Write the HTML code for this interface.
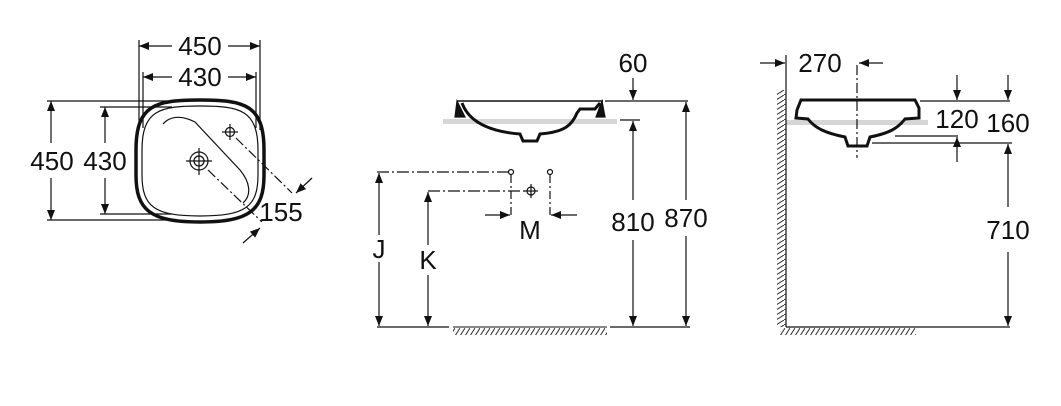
<!DOCTYPE html>
<html><head><meta charset="utf-8"><style>
html,body{margin:0;padding:0;background:#fff;}
svg{display:block;}
text{font-family:"Liberation Sans",sans-serif;font-size:26px;fill:#111;text-anchor:middle;}
</style></head><body>
<svg width="1061" height="406" viewBox="0 0 1061 406" xmlns="http://www.w3.org/2000/svg">
<defs>
<marker id="a" viewBox="0 0 10 10" refX="10" refY="5" markerWidth="15" markerHeight="10" markerUnits="userSpaceOnUse" orient="auto"><path d="M0,1 L10,5 L0,9 Z" fill="#111"/></marker>
<pattern id="h" width="5" height="8" patternUnits="userSpaceOnUse"><path d="M0,8 L5,0" stroke="#333" stroke-width="1"/></pattern>
<pattern id="hv" width="8" height="5" patternUnits="userSpaceOnUse"><path d="M0,5 L8,0" stroke="#333" stroke-width="1"/></pattern>
</defs>
<rect x="443" y="119" width="174" height="5" fill="#d6d6d6"/>
<rect x="786" y="120" width="142" height="5" fill="#d6d6d6"/>
<g stroke="#111" stroke-width="1.2" fill="none">
<!-- Panel 1 -->
<line x1="139" y1="40" x2="139" y2="128"/><line x1="260" y1="40" x2="260" y2="130"/>
<line x1="143" y1="72" x2="143" y2="128"/><line x1="256" y1="72" x2="256" y2="128"/>
<line x1="172" y1="46" x2="139" y2="46" marker-end="url(#a)"/><line x1="228" y1="46" x2="260" y2="46" marker-end="url(#a)"/>
<line x1="172" y1="77" x2="143" y2="77" marker-end="url(#a)"/><line x1="228" y1="77" x2="256" y2="77" marker-end="url(#a)"/>
<line x1="47" y1="101" x2="168" y2="101"/><line x1="47" y1="220" x2="168" y2="220"/>
<line x1="100" y1="107" x2="172" y2="107"/><line x1="100" y1="214" x2="172" y2="214"/>
<line x1="51" y1="143" x2="51" y2="101" marker-end="url(#a)"/><line x1="51" y1="178" x2="51" y2="220" marker-end="url(#a)"/>
<line x1="105" y1="143" x2="105" y2="107" marker-end="url(#a)"/><line x1="105" y1="178" x2="105" y2="214" marker-end="url(#a)"/>
<path d="M200,100 C245,100 264,105 264,150 L264,175 C264,210 250,222 200,222 C150,222 136,210 136,175 L136,150 C136,105 155,100 200,100 Z" stroke-width="3.5"/>
<path d="M200,106 C240,106 258,110 258,150 L258,175 C258,207 245,216 200,216 C155,216 142,207 142,175 L142,150 C142,110 160,106 200,106 Z"/>
<path d="M163,124 C172,114 185,117 195,122 L240,170 C250,182 252,195 243,203"/>
<circle cx="199" cy="161" r="9"/><circle cx="199" cy="161" r="5"/>
<line x1="186" y1="161" x2="212" y2="161"/><line x1="199" y1="148" x2="199" y2="175"/>
<circle cx="230" cy="132" r="4.5"/><line x1="222" y1="132" x2="238" y2="132"/><line x1="230" y1="124" x2="230" y2="140"/>
<line x1="208" y1="170" x2="262" y2="222" stroke-dasharray="10,3,2,3"/>
<line x1="236" y1="138" x2="292" y2="193" stroke-dasharray="10,3,2,3"/>
<line x1="312" y1="178" x2="296" y2="193" marker-end="url(#a)"/>
<line x1="243" y1="243" x2="260" y2="228" marker-end="url(#a)"/>
<!-- Panel 2 -->
<path d="M457,101 L603,101" stroke-width="1.5"/>
<path d="M462,103 C470,125 495,132 520,134 L523,141 L537,141 L540,134 C565,132 572,125 577,113 L580,109 L595,109 L600,103" stroke-width="3"/>
<path d="M457,101 L455,117 L465,117 Z M602,101 L605,117 L596,117 Z" fill="#111"/>
<line x1="605" y1="101" x2="688" y2="101"/>
<line x1="620" y1="120" x2="640" y2="120"/>
<line x1="633" y1="78" x2="633" y2="100" marker-end="url(#a)"/>
<line x1="633" y1="200" x2="633" y2="121" marker-end="url(#a)"/><line x1="633" y1="240" x2="633" y2="326" marker-end="url(#a)"/>
<line x1="686" y1="200" x2="686" y2="102" marker-end="url(#a)"/><line x1="686" y1="236" x2="686" y2="326" marker-end="url(#a)"/>
<line x1="377" y1="327" x2="449" y2="327"/><line x1="610" y1="327" x2="690" y2="327"/>
<line x1="453" y1="327" x2="607" y2="327" stroke-width="1"/>
<line x1="377" y1="172" x2="508" y2="172" stroke-dasharray="12,3,2,3"/>
<line x1="428" y1="191" x2="527" y2="191" stroke-dasharray="12,3,2,3"/>
<line x1="379" y1="235" x2="379" y2="173" marker-end="url(#a)"/><line x1="379" y1="262" x2="379" y2="326" marker-end="url(#a)"/>
<line x1="428" y1="245" x2="428" y2="192" marker-end="url(#a)"/><line x1="428" y1="275" x2="428" y2="326" marker-end="url(#a)"/>
<circle cx="511" cy="172" r="2.5"/><circle cx="550" cy="172" r="2.5"/><circle cx="531" cy="191" r="4"/>
<line x1="524" y1="191" x2="538" y2="191"/><line x1="531" y1="184" x2="531" y2="198"/>
<line x1="511" y1="175" x2="511" y2="216" stroke-dasharray="8,3,2,3"/><line x1="550" y1="175" x2="550" y2="216" stroke-dasharray="8,3,2,3"/>
<line x1="485" y1="215" x2="510" y2="215" marker-end="url(#a)"/><line x1="577" y1="215" x2="551" y2="215" marker-end="url(#a)"/>
<!-- Panel 3 -->
<line x1="786" y1="55" x2="786" y2="327"/>
<line x1="786" y1="327" x2="1010" y2="327"/>
<line x1="760" y1="63" x2="785" y2="63" marker-end="url(#a)"/>
<line x1="883" y1="63" x2="859" y2="63" marker-end="url(#a)"/>
<line x1="857" y1="65" x2="857" y2="158" stroke-dasharray="10,3,2,3"/>
<path d="M801,100 L915,100 L919,108 L919,118 L905,119 C898,128 890,133 870,137 L867,146 L848,146 L845,137 C825,133 815,128 808,119 L796,118 L797,110 Z" stroke-width="3"/>
<line x1="920" y1="101" x2="1010" y2="101"/>
<line x1="895" y1="136" x2="958" y2="136"/><line x1="872" y1="143" x2="1012" y2="143"/>
<line x1="957" y1="75" x2="957" y2="100" marker-end="url(#a)"/>
<line x1="957" y1="162" x2="957" y2="137" marker-end="url(#a)"/>
<line x1="1008" y1="75" x2="1008" y2="100" marker-end="url(#a)"/>
<line x1="1008" y1="207" x2="1008" y2="144" marker-end="url(#a)"/><line x1="1008" y1="252" x2="1008" y2="326" marker-end="url(#a)"/>
</g>
<rect x="453" y="328" width="154" height="7" fill="url(#h)"/>
<rect x="780" y="328" width="136" height="7" fill="url(#h)"/>
<rect x="777" y="90" width="9" height="237" fill="url(#hv)"/>
<text x="200" y="55">450</text><text x="200" y="86">430</text>
<text x="52" y="170">450</text><text x="105" y="170">430</text>
<text x="281" y="221">155</text>
<text x="633" y="72">60</text>
<text x="633" y="231">810</text><text x="686" y="227">870</text>
<text x="379" y="258">J</text><text x="428" y="269">K</text><text x="530" y="239">M</text>
<text x="820" y="72">270</text>
<text x="957" y="128">120</text><text x="1008" y="132">160</text>
<text x="1008" y="239">710</text>
</svg>
</body></html>
